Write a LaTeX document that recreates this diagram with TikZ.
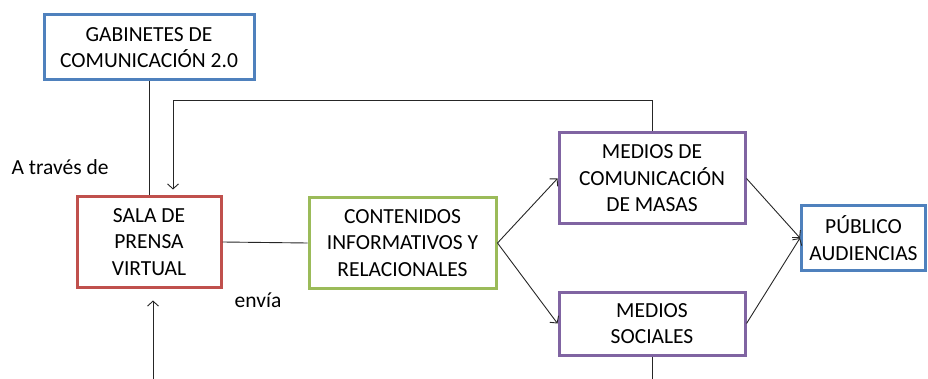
\documentclass[tikz,border=0pt]{standalone}
\usepackage{fontspec}
\setmainfont{Carlito}
\usetikzlibrary{arrows.meta}
\definecolor{boxblue}{HTML}{4F81BD}
\definecolor{boxred}{HTML}{C0504D}
\definecolor{boxgreen}{HTML}{9BBB59}
\definecolor{boxpurple}{HTML}{8064A2}
\begin{document}
\begin{tikzpicture}[x=1pt,y=-1pt,
	box/.style={draw,line width=3pt,fill=white,align=center,inner sep=0pt,
		font=\fontsize{21.5}{26.5}\selectfont},
	conn/.style={line width=0.9pt,draw=black!85},
	>={Straight Barb[length=5pt,width=11pt]}]
	\useasboundingbox (0,0) rectangle (928,379);
	% boxes
	\node[box,draw=boxblue,minimum width=210pt,minimum height=65pt] (gab) at (149,47.5)
		{GABINETES DE\\COMUNICACIÓN 2.0};
	\node[box,draw=boxred,minimum width=144pt,minimum height=90pt] (sala) at (149,242)
		{SALA DE\\PRENSA\\VIRTUAL};
	\node[box,draw=boxgreen,minimum width=187pt,minimum height=91pt] (cont) at (402.5,243)
		{CONTENIDOS\\INFORMATIVOS Y\\RELACIONALES};
	\node[box,draw=boxpurple,minimum width=186pt,minimum height=91pt] (masas) at (652,178.5)
		{MEDIOS DE\\COMUNICACIÓN\\DE MASAS};
	\node[box,draw=boxpurple,minimum width=186pt,minimum height=63pt] (sociales) at (652,323.5)
		{MEDIOS\\SOCIALES};
	\node[box,draw=boxblue,minimum width=124pt,minimum height=64pt] (publico) at (863.5,238)
		{PÚBLICO\\AUDIENCIAS};
	% labels
	\node[font=\fontsize{21.5}{26.5}\selectfont] (atraves) at (60,167) {A través de};
	\node[font=\fontsize{21.5}{26.5}\selectfont] (envia) at (258,300) {envía};
	% connectors
	\coordinate (abajo) at (153,379);
	\coordinate (salida) at (652,379);
	\draw[conn] (gab.south) -- (sala.north);
	\draw[conn] (sala.east) -- (cont.west);
	\draw[conn,->] (cont.east) -- (masas.west);
	\draw[conn,->] (cont.east) -- (sociales.west);
	\draw[conn,->] (masas.east) -- (publico.west);
	\draw[conn,->] (sociales.east) -- (publico.west);
	\draw[conn,->,shorten >=6pt] (masas.north) -- ++(0,-31) -| ([xshift=24pt]sala.north);
	\draw[conn,->,shorten >=12pt] (abajo) -- (abajo |- sala.south);
	\draw[conn] (sociales.south) -- (salida);
\end{tikzpicture}
\end{document}
